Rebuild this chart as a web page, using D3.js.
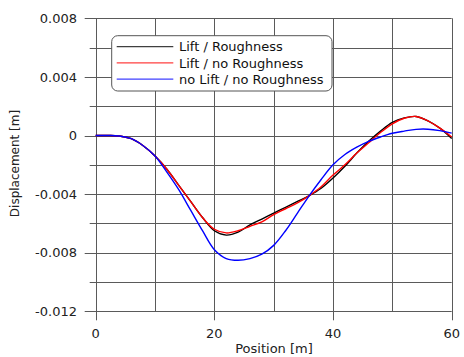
<!DOCTYPE html>
<html><head><meta charset="utf-8">
<script src="https://cdn.jsdelivr.net/npm/d3@7"></script>
<style>body{margin:0;background:#fff}svg{display:block}text{font-family:"DejaVu Sans",sans-serif}</style>
</head><body><svg id="c" width="464" height="357"></svg>
<script>
const positions = [0,2,4,6,8,10,12,14,16,18,20,22,24,26,28,30,32,34,36,38,40,42,44,46,48,50,52,54,56,58,60];
const liftRough = [0,0,-0.00003,-0.00022,-0.0007,-0.0014,-0.0023,-0.0034,-0.0045,-0.0056,-0.0065,-0.0068,-0.0066,-0.0061,-0.0057,-0.0053,-0.0049,-0.0045,-0.0041,-0.0036,-0.0029,-0.0021,-0.0012,-0.0004,0.0003,0.0009,0.0012,0.0013,0.0010,0.0005,-0.0002];
const liftNoRough = [0,0,-0.00003,-0.00022,-0.0007,-0.0014,-0.0023,-0.0034,-0.0045,-0.0056,-0.0064,-0.00665,-0.0065,-0.0062,-0.0059,-0.0054,-0.0050,-0.0046,-0.0041,-0.0035,-0.0027,-0.0020,-0.0012,-0.0005,0.0002,0.0008,0.00118,0.0013,0.0010,0.0005,-0.0001];
const noLiftNoRough = [0,0,-0.00003,-0.00022,-0.0007,-0.0014,-0.0025,-0.0037,-0.0051,-0.0065,-0.0078,-0.0084,-0.00852,-0.0084,-0.0081,-0.0075,-0.0065,-0.0053,-0.0041,-0.0030,-0.0020,-0.0013,-0.0008,-0.0004,-0.0001,0.00015,0.0003,0.00042,0.00043,0.00033,0.00016];
const seriesNames = ["Lift / Roughness","Lift / no Roughness","no Lift / no Roughness"];
const seriesColors = ["#000000","#ff0000","#0000ff"];
const xMajorTicks = [0,20,40,60];
const xGridTicks = [0,10,20,30,40,50,60];
const yMajorTicks = [0.008,0.004,0,-0.004,-0.008,-0.012];
const yGridTicks = [0.008,0.006,0.004,0.002,0,-0.002,-0.004,-0.006,-0.008,-0.010,-0.012];
const yTickLabels = ["0.008","0.004","0","-0.004","-0.008","-0.012"];

const svg = d3.select("#c");
const x = d3.scaleLinear().domain([0,60]).range([95.7,451.7]);
const y = d3.scaleLinear().domain([-0.012,0.008]).range([311.3,18.3]);
const gridColor = "#5a5a5a";

// horizontal grid
svg.append("g").selectAll("line").data(yGridTicks).join("line")
  .attr("x1", d => yMajorTicks.some(t=>Math.abs(t-d)<1e-9) ? x(0)-11 : x(0)-6)
  .attr("x2", x(60))
  .attr("y1", d=>Math.round(y(d))+0.5).attr("y2", d=>Math.round(y(d))+0.5)
  .attr("stroke", gridColor).attr("stroke-width",1);
// vertical grid
svg.append("g").selectAll("line").data(xGridTicks).join("line")
  .attr("x1", d=>Math.round(x(d))+0.5).attr("x2", d=>Math.round(x(d))+0.5)
  .attr("y1", y(0.008))
  .attr("y2", d => xMajorTicks.includes(d) ? y(-0.012)+9 : y(-0.012))
  .attr("stroke", gridColor).attr("stroke-width",1);

// y tick labels
svg.append("g").selectAll("text").data(yMajorTicks).join("text")
  .attr("x", 77).attr("y", d=>y(d)).attr("dy","0.36em")
  .attr("text-anchor","end").attr("font-size",13).attr("fill","#222")
  .text((d,i)=>yTickLabels[i]);
// x tick labels
svg.append("g").selectAll("text").data(xMajorTicks).join("text")
  .attr("x", d=>x(d)).attr("y", 338)
  .attr("text-anchor","middle").attr("font-size",13).attr("fill","#222")
  .text(d=>d);

// axis titles
svg.append("text").attr("x", 274).attr("y", 353).attr("text-anchor","middle")
  .attr("font-size",13).attr("fill","#222").text("Position [m]");
svg.append("text").attr("transform","translate(19,163.5) rotate(-90)").attr("text-anchor","middle")
  .attr("font-size",12).attr("fill","#222").text("Displacement [m]");

// curves
const series = [liftRough, liftNoRough, noLiftNoRough];
const line = d3.line().x((d,i)=>x(positions[i])).y(d=>y(d)).curve(d3.curveCatmullRom.alpha(0.5));
series.forEach((s,k)=>{
  svg.append("path").datum(s).attr("d", line).attr("fill","none")
    .attr("stroke", seriesColors[k]).attr("stroke-width",1.4);
});

// legend
const lg = svg.append("g");
lg.append("rect").attr("x",111.7).attr("y",35.7).attr("width",220.3).attr("height",55.3)
  .attr("rx",6).attr("fill","#fff").attr("stroke","#555").attr("stroke-width",1);
seriesNames.forEach((n,k)=>{
  const yy = 46.7 + k*16.2;
  lg.append("line").attr("x1",116.7).attr("x2",173.3).attr("y1",yy).attr("y2",yy)
    .attr("stroke",seriesColors[k]).attr("stroke-width",1.3).attr("opacity",0.75);
  lg.append("text").attr("x",179).attr("y",yy).attr("dy","0.36em")
    .attr("font-size",13).attr("fill","#111").text(n);
});
</script></body></html>
